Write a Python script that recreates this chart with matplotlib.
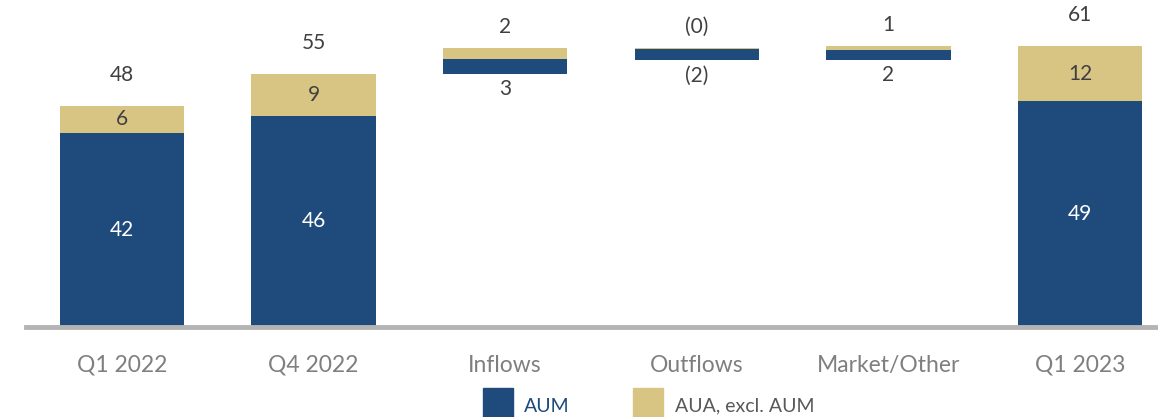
import matplotlib
matplotlib.use("Agg")
import matplotlib.pyplot as plt
from matplotlib.patches import Rectangle

plt.rcParams["font.family"] = ["Lato", "DejaVu Sans"]

# AUM / AUA bridge, $bn
categories = ["Q1 2022", "Q4 2022", "Inflows", "Outflows", "Market/Other", "Q1 2023"]
aum = [42.4, 46.1, 3.4, -2.4, 2.2, 49.3]
aua_excl_aum = [5.9, 9.1, 2.4, -0.4, 0.9, 12.0]
is_total = [True, True, False, False, False, True]

BLUE = "#1f4a7c"
GOLD = "#d8c584"
TEXT = "#404040"
AXIS_GRAY = "#b4b4b4"
TICK_GRAY = "#7f7f7f"
VALUE_FS = 15


def fmt(v):
    r = round(abs(v))
    return f"({r:.0f})" if v < 0 else f"{r:.0f}"


fig = plt.figure(figsize=(11.58, 4.17), dpi=100)
ax = fig.add_axes([26 / 1158, 90 / 417, 1150 / 1158, 320.6 / 417])

width = 0.647
running = 0.0
for i, (cat, a, b, tot) in enumerate(zip(categories, aum, aua_excl_aum, is_total)):
    if tot:
        ax.bar(i, a, width, bottom=0, color=BLUE, zorder=2)
        ax.bar(i, b, width, bottom=a, color=GOLD, zorder=2)
        total = a + b
        ax.text(i, a / 2, fmt(a), ha="center", va="center", color="white", fontsize=VALUE_FS)
        ax.text(i, a + b / 2, fmt(b), ha="center", va="center", color=TEXT, fontsize=VALUE_FS)
        ax.annotate(fmt(total), (i, total), xytext=(0, 31), textcoords="offset pixels",
                    ha="center", va="center", color=TEXT, fontsize=VALUE_FS)
        running = total
    else:
        if a + b >= 0:
            ax.bar(i, a, width, bottom=running, color=BLUE, zorder=2)
            ax.bar(i, b, width, bottom=running + a, color=GOLD, zorder=2)
            top, low = running + a + b, running
        else:
            ax.bar(i, b, width, bottom=running, color=GOLD, zorder=2)
            ax.bar(i, a, width, bottom=running + b, color=BLUE, zorder=2)
            top, low = running, running + a + b
        ax.annotate(fmt(b), (i, top), xytext=(0, 21), textcoords="offset pixels",
                    ha="center", va="center", color=TEXT, fontsize=VALUE_FS)
        ax.annotate(fmt(a), (i, low), xytext=(0, -15), textcoords="offset pixels",
                    ha="center", va="center", color=TEXT, fontsize=VALUE_FS)
        running += a + b

ax.set_xlim(-0.5, len(categories) - 0.5)
ax.set_ylim(0, 70)
ax.set_xticks(range(len(categories)))
ax.set_xticklabels(categories, fontsize=16.5, color=TICK_GRAY)
ax.set_yticks([])
ax.tick_params(axis="x", length=0, pad=20)
for side in ["top", "right", "left"]:
    ax.spines[side].set_visible(False)
ax.spines["bottom"].set_color(AXIS_GRAY)
ax.spines["bottom"].set_linewidth(3.5)
ax.spines["bottom"].set_zorder(3)

# legend drawn in figure coordinates
W, H = 1158, 417
fig.patches.append(Rectangle((483 / W, 0), 30 / W, 29 / H, transform=fig.transFigure,
                             color=BLUE, figure=fig))
fig.text(524 / W, 10 / H, "AUM", color=BLUE, fontsize=14, va="center", ha="left")
fig.patches.append(Rectangle((633 / W, 0), 30 / W, 29 / H, transform=fig.transFigure,
                             color=GOLD, figure=fig))
fig.text(675 / W, 11 / H, "AUA, excl. AUM", color="#595959", fontsize=14, va="center", ha="left")

fig.savefig("out.png", dpi=100)
